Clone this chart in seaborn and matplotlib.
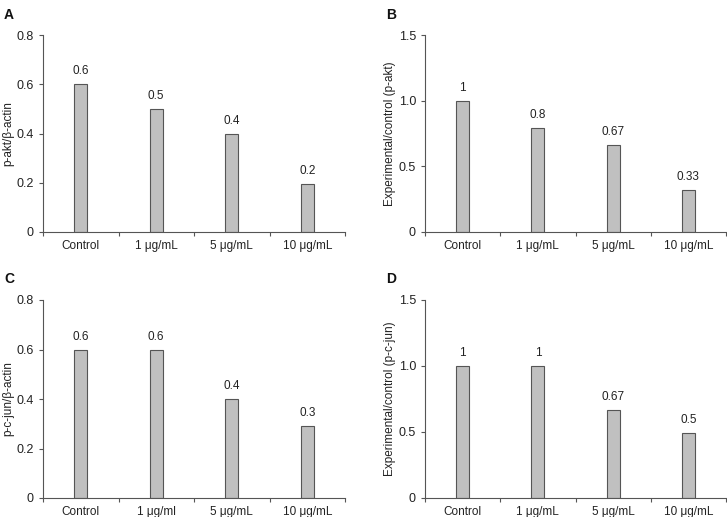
import pandas as pd
import seaborn as sns
import matplotlib.pyplot as plt

# panel data
doses = ['Control', '1 μg/mL', '5 μg/mL', '10 μg/mL']
doses_c = ['Control', '1 μg/ml', '5 μg/mL', '10 μg/mL']

akt_ratio = [0.6, 0.5, 0.4, 0.195]
akt_ratio_labels = ['0.6', '0.5', '0.4', '0.2']
akt_rel = [1.0, 0.79, 0.665, 0.32]
akt_rel_labels = ['1', '0.8', '0.67', '0.33']
jun_ratio = [0.6, 0.6, 0.4, 0.29]
jun_ratio_labels = ['0.6', '0.6', '0.4', '0.3']
jun_rel = [1.0, 1.0, 0.665, 0.49]
jun_rel_labels = ['1', '1', '0.67', '0.5']

sns.set_style('ticks')
plt.rcParams['font.family'] = ['Liberation Sans', 'DejaVu Sans']
plt.rcParams['font.size'] = 8.5

W, H = 727, 517
fig = plt.figure(figsize=(W / 100, H / 100), dpi=100)


def px_axes(left, top, right, bottom):
    return fig.add_axes([left / W, 1 - bottom / H, (right - left) / W, (bottom - top) / H])


def draw_panel(ax, cats, vals, labels, ylabel, yticks, yticklabels):
    df = pd.DataFrame({'dose': cats, 'value': vals})
    sns.barplot(data=df, x='dose', y='value', ax=ax, color='#c0c0c0',
                edgecolor='#555555', linewidth=0.8, width=0.17, saturation=1)
    for i, (v, t) in enumerate(zip(vals, labels)):
        ax.annotate(t, (i, v), xytext=(0, 5), textcoords='offset points',
                    ha='center', va='bottom', fontsize=8.5, color='#222222')
    ax.set_xlim(-0.5, 3.5)
    ax.set_ylim(0, yticks[-1])
    ax.set_yticks(yticks)
    ax.set_yticklabels(yticklabels)
    # tick marks between categories, labels centred under bars
    ax.set_xticks([-0.5, 0.5, 1.5, 2.5, 3.5])
    ax.set_xticklabels([])
    ax.set_xticks(range(len(cats)), minor=True)
    ax.set_xticklabels(cats, minor=True)
    ax.tick_params(axis='x', which='minor', length=0, pad=6)
    ax.tick_params(axis='both', which='major', length=3, color='#555555',
                   labelcolor='#222222')
    ax.tick_params(axis='y', labelsize=9)
    ax.tick_params(axis='x', which='minor', labelcolor='#222222', labelsize=8.5)
    ax.set_xlabel('')
    ax.set_ylabel(ylabel, fontsize=8.5, color='#222222', labelpad=2)
    sns.despine(ax=ax)
    for s in ['left', 'bottom']:
        ax.spines[s].set_color('#555555')
        ax.spines[s].set_linewidth(0.8)
    return ax


axA = px_axes(43, 35, 345, 232)
draw_panel(axA, doses, akt_ratio, akt_ratio_labels, 'p-akt/β-actin',
           [0, 0.2, 0.4, 0.6, 0.8], ['0', '0.2', '0.4', '0.6', '0.8'])
axB = px_axes(425, 35, 726, 232)
draw_panel(axB, doses, akt_rel, akt_rel_labels, 'Experimental/control (p-akt)',
           [0, 0.5, 1.0, 1.5], ['0', '0.5', '1.0', '1.5'])
axC = px_axes(43, 300, 345, 498)
draw_panel(axC, doses_c, jun_ratio, jun_ratio_labels, 'p-c-jun/β-actin',
           [0, 0.2, 0.4, 0.6, 0.8], ['0', '0.2', '0.4', '0.6', '0.8'])
axD = px_axes(425, 300, 726, 498)
draw_panel(axD, doses, jun_rel, jun_rel_labels, 'Experimental/control (p-c-jun)',
           [0, 0.5, 1.0, 1.5], ['0', '0.5', '1.0', '1.5'])

for letter, x, y in [('A', 4, 15), ('B', 386, 15), ('C', 4, 279), ('D', 386, 279)]:
    fig.text(x / W, 1 - y / H, letter, fontsize=10, fontweight='bold',
             ha='left', va='center', color='#111111')

fig.savefig('out.png', dpi=100)
